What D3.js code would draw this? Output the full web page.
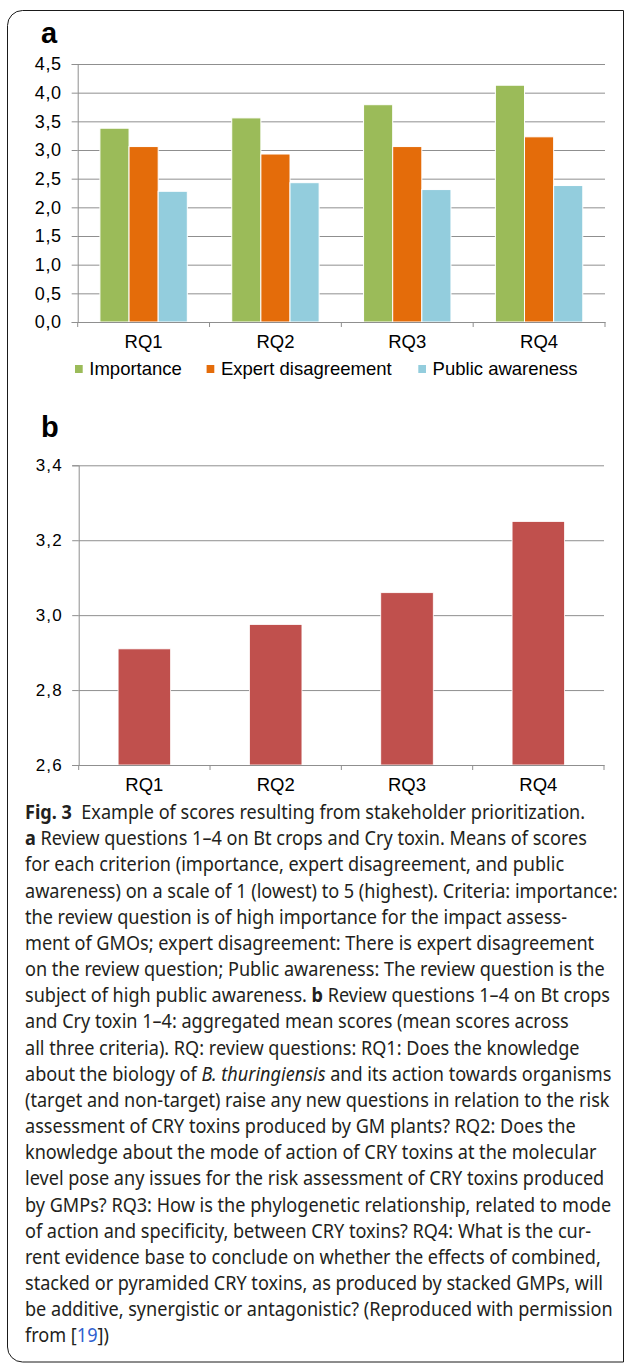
<!DOCTYPE html>
<html>
<head>
<meta charset="utf-8">
<script src="https://cdn.jsdelivr.net/npm/d3@7"></script>
<style>
  body { margin: 0; background: #fff; }
  svg { display: block; }
  .tick text { fill: #000; }
</style>
</head>
<body>
<div id="chart-area"></div>
<script>
// data
var categories = ["RQ1", "RQ2", "RQ3", "RQ4"];
var seriesNames = ["Importance", "Expert disagreement", "Public awareness"];
var importance = [3.38, 3.56, 3.79, 4.13];
var expertDisagreement = [3.06, 2.93, 3.06, 3.23];
var publicAwareness = [2.28, 2.43, 2.31, 2.38];
var aggregatedMean = [2.91, 2.975, 3.06, 3.25];
var ticksA = [0, 0.5, 1, 1.5, 2, 2.5, 3, 3.5, 4, 4.5];
var ticksB = [2.6, 2.8, 3.0, 3.2, 3.4];

var seriesColors = ["#9BBB59", "#E46C0A", "#93CDDD"];
var barColorB = "#C0504D";
var gridColor = "#8f8f8f";
var chartFont = "'Liberation Sans', Arial, sans-serif";

var svg = d3.select("#chart-area")
  .append("svg")
    .attr("width", 624)
    .attr("height", 1364);

// frame round the figure
svg.append("path")
  .attr("d", "M623.5,10.5 H22.5 A15,15 0 0 0 7.5,25.5 V1347 A15,15 0 0 0 22.5,1362 H623.5 Z")
  .attr("fill", "none")
  .attr("stroke", "#1a1a1a")
  .attr("stroke-width", 1);

function fmt(d) { return d.toFixed(1).replace(".", ","); }

// ---------- panel a ----------
var a = { left: 77.7, right: 605, top: 64, bottom: 322 };

svg.append("text")
  .attr("x", 41).attr("y", 42.7)
  .attr("font-family", chartFont).attr("font-weight", "bold")
  .attr("font-size", "29px")
  .text("a");

var yA = d3.scaleLinear().domain([0, 4.5]).range([a.bottom, a.top]);
var xbA = d3.scaleBand().domain(categories).range([a.left, a.right]).padding(0);
var x0A = d3.scaleBand().domain(categories).range([a.left, a.right])
  .paddingInner(0.337).paddingOuter(0.1685);
var x1A = d3.scaleBand().domain(seriesNames).range([0, x0A.bandwidth()]);

var gA = svg.append("g");

// gridlines
gA.append("g")
  .attr("transform", "translate(" + a.left + ",0)")
  .call(d3.axisLeft(yA).tickValues(ticksA).tickSize(-(a.right - a.left)).tickFormat(""))
  .call(function(g) {
    g.select(".domain").remove();
    g.selectAll("line").attr("stroke", gridColor);
  });

// y axis with labels
gA.append("g")
  .attr("transform", "translate(" + a.left + ",0)")
  .call(d3.axisLeft(yA).tickValues(ticksA).tickSize(6).tickPadding(10.1).tickFormat(fmt))
  .call(function(g) {
    g.select(".domain").attr("stroke", gridColor);
    g.selectAll("line").attr("stroke", gridColor);
    g.selectAll("text")
      .attr("font-family", chartFont)
      .attr("font-size", "18px")
      .attr("letter-spacing", "0.6px");
  });

// bars
var rowsA = categories.map(function(c, i) {
  return { cat: c, values: [importance[i], expertDisagreement[i], publicAwareness[i]] };
});

gA.selectAll("g.group")
  .data(rowsA)
  .enter().append("g")
    .attr("class", "group")
    .attr("transform", function(d) { return "translate(" + x0A(d.cat) + ",0)"; })
  .selectAll("rect")
  .data(function(d) { return d.values.map(function(v, j) { return { s: seriesNames[j], v: v, j: j }; }); })
  .enter().append("rect")
    .attr("x", function(d) { return x1A(d.s); })
    .attr("y", function(d) { return yA(d.v); })
    .attr("width", x1A.bandwidth())
    .attr("height", function(d) { return yA(0) - yA(d.v); })
    .attr("fill", function(d) { return seriesColors[d.j]; })
    .attr("stroke", "#fff")
    .attr("stroke-width", 1);

// x axis
gA.append("g")
  .attr("transform", "translate(0," + a.bottom + ")")
  .call(d3.axisBottom(xbA).tickSize(0).tickPadding(13.2))
  .call(function(g) {
    g.select(".domain").attr("stroke", gridColor);
    g.selectAll("text")
      .attr("font-family", chartFont)
      .attr("font-size", "18.5px");
  });

gA.selectAll("line.sep")
  .data(categories.concat(["end"]))
  .enter().append("line")
    .attr("class", "sep")
    .attr("x1", function(d) { return d === "end" ? a.right : xbA(d); })
    .attr("x2", function(d) { return d === "end" ? a.right : xbA(d); })
    .attr("y1", a.bottom)
    .attr("y2", a.bottom + 5)
    .attr("stroke", gridColor);

// legend
var legendX = [89.3, 220.9, 432.6];
var legend = gA.selectAll("g.legend")
  .data(seriesNames)
  .enter().append("g")
    .attr("class", "legend")
    .attr("transform", function(d, i) { return "translate(" + legendX[i] + ",375)"; });

legend.append("rect")
  .attr("x", -14.3).attr("y", -10)
  .attr("width", 7.7).attr("height", 8)
  .attr("fill", function(d, i) { return seriesColors[i]; });

legend.append("text")
  .attr("font-family", chartFont)
  .attr("font-size", "18.5px")
  .text(function(d) { return d; });

// ---------- panel b ----------
var b = { left: 78.7, right: 604, top: 465.3, bottom: 765 };

svg.append("text")
  .attr("x", 41).attr("y", 437.3)
  .attr("font-family", chartFont).attr("font-weight", "bold")
  .attr("font-size", "29px")
  .text("b");

var yB = d3.scaleLinear().domain([2.6, 3.4]).range([b.bottom, b.top]);
var xbB = d3.scaleBand().domain(categories).range([b.left, b.right]).padding(0);
var xB = d3.scaleBand().domain(categories).range([b.left, b.right])
  .paddingInner(0.6).paddingOuter(0.3);

var gB = svg.append("g");

gB.append("g")
  .attr("transform", "translate(" + b.left + ",0)")
  .call(d3.axisLeft(yB).tickValues(ticksB).tickSize(-(b.right - b.left)).tickFormat(""))
  .call(function(g) {
    g.select(".domain").remove();
    g.selectAll("line").attr("stroke", gridColor);
  });

gB.append("g")
  .attr("transform", "translate(" + b.left + ",0)")
  .call(d3.axisLeft(yB).tickValues(ticksB).tickSize(6.5).tickPadding(9.3).tickFormat(fmt))
  .call(function(g) {
    g.select(".domain").attr("stroke", gridColor);
    g.selectAll("line").attr("stroke", gridColor);
    g.selectAll("text")
      .attr("font-family", chartFont)
      .attr("font-size", "17px")
      .attr("letter-spacing", "1.2px");
  });

gB.selectAll("rect.bar")
  .data(aggregatedMean)
  .enter().append("rect")
    .attr("class", "bar")
    .attr("x", function(d, i) { return xB(categories[i]); })
    .attr("y", function(d) { return yB(d); })
    .attr("width", xB.bandwidth())
    .attr("height", function(d) { return yB(2.6) - yB(d); })
    .attr("fill", barColorB)
    .attr("stroke", "#fff")
    .attr("stroke-width", 0.8);

gB.append("g")
  .attr("transform", "translate(0," + b.bottom + ")")
  .call(d3.axisBottom(xbB).tickSize(0).tickPadding(12.9))
  .call(function(g) {
    g.select(".domain").attr("stroke", gridColor);
    g.selectAll("text")
      .attr("font-family", chartFont)
      .attr("font-size", "18.5px");
  });

gB.selectAll("line.sep")
  .data(categories.concat(["end"]))
  .enter().append("line")
    .attr("class", "sep")
    .attr("x1", function(d) { return d === "end" ? b.right : xbB(d); })
    .attr("x2", function(d) { return d === "end" ? b.right : xbB(d); })
    .attr("y1", b.bottom)
    .attr("y2", b.bottom + 5)
    .attr("stroke", gridColor);

// ---------- caption ----------
var captionLines = [
  [["Fig. 3", "b"], ["  Example of scores resulting from stakeholder prioritization."]],
  [["a", "b"], [" Review questions 1–4 on Bt crops and Cry toxin. Means of scores"]],
  [["for each criterion (importance, expert disagreement, and public"]],
  [["awareness) on a scale of 1 (lowest) to 5 (highest). Criteria: importance:"]],
  [["the review question is of high importance for the impact assess-"]],
  [["ment of GMOs; expert disagreement: There is expert disagreement"]],
  [["on the review question; Public awareness: The review question is the"]],
  [["subject of high public awareness. "], ["b", "b"], [" Review questions 1–4 on Bt crops"]],
  [["and Cry toxin 1–4: aggregated mean scores (mean scores across"]],
  [["all three criteria). RQ: review questions: RQ1: Does the knowledge"]],
  [["about the biology of "], ["B. thuringiensis", "i"], [" and its action towards organisms"]],
  [["(target and non-target) raise any new questions in relation to the risk"]],
  [["assessment of CRY toxins produced by GM plants? RQ2: Does the"]],
  [["knowledge about the mode of action of CRY toxins at the molecular"]],
  [["level pose any issues for the risk assessment of CRY toxins produced"]],
  [["by GMPs? RQ3: How is the phylogenetic relationship, related to mode"]],
  [["of action and specificity, between CRY toxins? RQ4: What is the cur-"]],
  [["rent evidence base to conclude on whether the effects of combined,"]],
  [["stacked or pyramided CRY toxins, as produced by stacked GMPs, will"]],
  [["be additive, synergistic or antagonistic? (Reproduced with permission"]],
  [["from ["], ["19", "l"], ["])"]]
];

var cap = svg.append("g");
var capFirst = 819, capStep = 26.17;

var capTexts = cap.selectAll("text")
  .data(captionLines)
  .enter().append("text")
    .attr("x", 0)
    .attr("y", function(d, i) { return capFirst + i * capStep; })
    .attr("font-family", "'Noto Sans', 'Open Sans', sans-serif")
    .attr("font-size", "19.5px")
    .attr("fill", "#231f20")
    .style("white-space", "pre");

capTexts.selectAll("tspan")
  .data(function(d) { return d; })
  .enter().append("tspan")
    .attr("font-weight", function(d) { return d[1] === "b" ? "bold" : null; })
    .attr("font-style", function(d) { return d[1] === "i" ? "italic" : null; })
    .attr("fill", function(d) { return d[1] === "l" ? "#2f5fd0" : null; })
    .text(function(d) { return d[0]; });

// condense the caption so the widest line spans like the original
var w = capTexts.nodes()[3].getComputedTextLength();
var sx = 593 / w;
cap.attr("transform", "translate(25,0) scale(" + sx + ",1)");
</script>
</body>
</html>
